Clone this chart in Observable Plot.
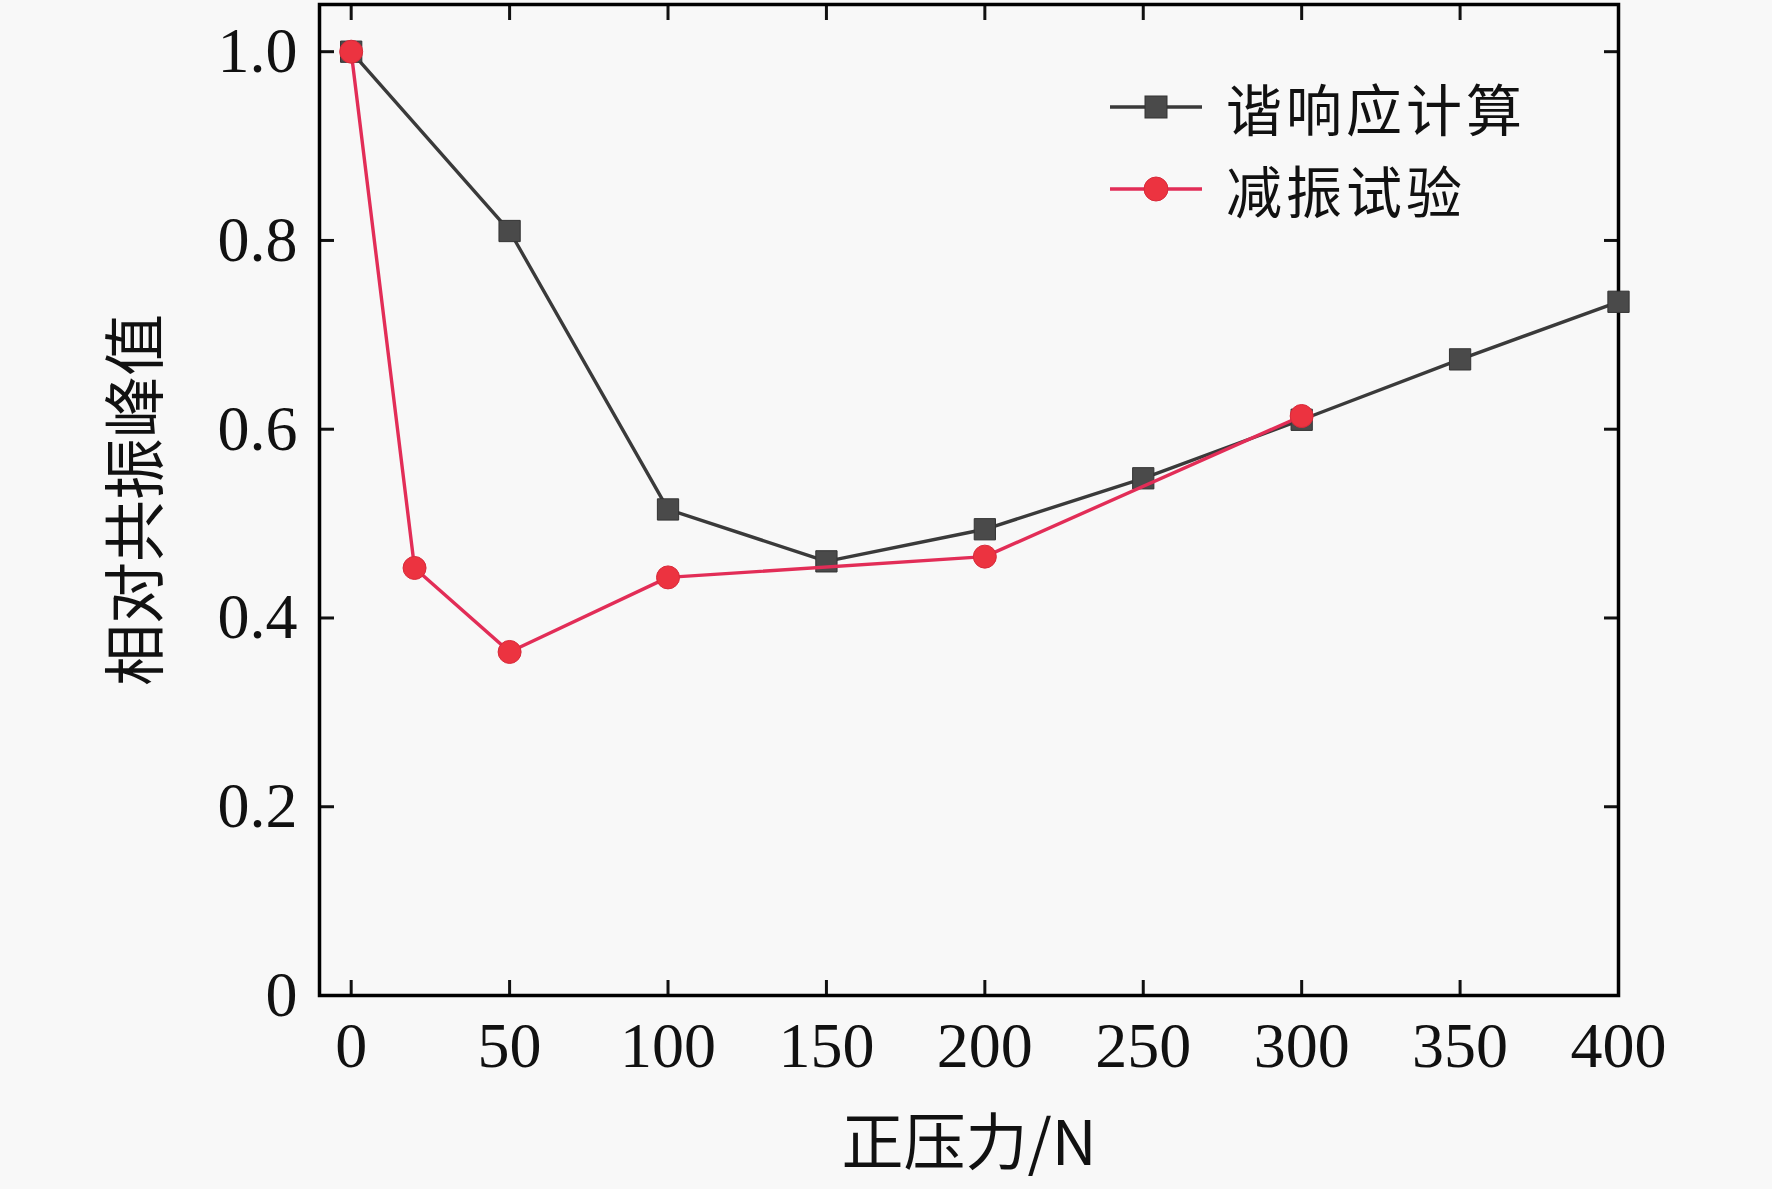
<!DOCTYPE html>
<html>
<head>
<meta charset="utf-8">
<script src="https://cdn.jsdelivr.net/npm/d3@7"></script>
<script src="https://cdn.jsdelivr.net/npm/@observablehq/plot@0.6"></script>
<style>
  html, body { margin: 0; padding: 0; background: #f8f8f8; }
  #wrap { position: relative; width: 1772px; height: 1189px; }
  #legend { position: absolute; left: 1108px; top: 66px; font-family: "Noto Sans CJK SC", sans-serif; font-size: 56px; color: #111; }
  .row { display: flex; align-items: center; height: 82px; }
  .row span { line-height: 1; display: inline-block; letter-spacing: 4px; }
  .row svg { margin-right: 22px; }
</style>
</head>
<body>
<div id="wrap"><div id="legend"></div></div>
<script>
const harmonicX = [0, 50, 100, 150, 200, 250, 300, 350, 400];
const harmonicY = [1.0, 0.810, 0.515, 0.460, 0.494, 0.548, 0.610, 0.674, 0.735];
const testX = [0, 20, 50, 100, 200, 300];
const testY = [1.0, 0.453, 0.364, 0.443, 0.465, 0.614];
const seriesNames = ["谐响应计算", "减振试验"];
const xTicks = [0, 50, 100, 150, 200, 250, 300, 350, 400];
const yTicks = [0, 0.2, 0.4, 0.6, 0.8, 1.0];
const yTickLabels = ["0", "0.2", "0.4", "0.6", "0.8", "1.0"];
const xLabel = "正压力/N";
const yLabel = "相对共振峰值";

const harmonic = harmonicX.map((x, i) => ({x, y: harmonicY[i]}));
const test = testX.map((x, i) => ({x, y: testY[i]}));

const darkLine = "#3a3a3a", darkFill = "#4a4a4a";
const redLine = "#e22d57", redFill = "#ec3340";
const numFont = "Liberation Serif";
const cjkFont = "Noto Sans CJK SC";

const chart = Plot.plot({
  width: 1772,
  height: 1189,
  marginLeft: 319,
  marginRight: 154,
  marginTop: 4,
  marginBottom: 194,
  style: {background: "transparent", fontFamily: numFont, fontSize: "62px", color: "#111"},
  x: {domain: [-10, 400]},
  y: {domain: [0, 1.05]},
  marks: [
    Plot.axisX({ticks: xTicks, tickSize: 0, tickPadding: 26, label: null, fontSize: 64, fontFamily: numFont}),
    Plot.axisX({ticks: xTicks, tickSize: -15, text: null, label: null, strokeWidth: 3}),
    Plot.axisX({anchor: "top", ticks: xTicks, tickSize: -15, text: null, label: null, strokeWidth: 3}),
    Plot.axisY({ticks: yTicks, tickFormat: d => yTickLabels[yTicks.indexOf(d)], tickSize: 0, tickPadding: 22, label: null, fontSize: 64, fontFamily: numFont}),
    Plot.axisY({ticks: yTicks, tickSize: -15, text: null, label: null, strokeWidth: 3}),
    Plot.axisY({anchor: "right", ticks: yTicks, tickSize: -15, text: null, label: null, strokeWidth: 3}),
    Plot.frame({stroke: "#000", strokeWidth: 3.5}),
    Plot.line(harmonic, {x: "x", y: "y", stroke: darkLine, strokeWidth: 3.4}),
    Plot.dot(harmonic, {x: "x", y: "y", symbol: "square", r: 12, fill: darkFill, stroke: "#333", strokeWidth: 1}),
    Plot.line(test, {x: "x", y: "y", stroke: redLine, strokeWidth: 3.4}),
    Plot.dot(test, {x: "x", y: "y", symbol: "circle", r: 11.5, fill: redFill, stroke: "#d82a3a", strokeWidth: 1}),
    Plot.text([xLabel], {frameAnchor: "bottom", dy: 150, text: d => d, fontSize: 62, fontFamily: cjkFont, fill: "#111", lineAnchor: "middle", textAnchor: "middle"}),
    Plot.text([yLabel], {frameAnchor: "left", dx: -181, rotate: -90, text: d => d, fontSize: 62, fontFamily: cjkFont, fill: "#111", lineAnchor: "middle", textAnchor: "middle"})
  ]
});
document.getElementById("wrap").insertBefore(chart, document.getElementById("legend"));

const legend = document.getElementById("legend");
const sw = [
  `<svg width="96" height="30"><line x1="2" y1="15" x2="94" y2="15" stroke="${darkLine}" stroke-width="3.4"/><rect x="37" y="4" width="22" height="22" fill="${darkFill}" stroke="#333"/></svg>`,
  `<svg width="96" height="30"><line x1="2" y1="15" x2="94" y2="15" stroke="${redLine}" stroke-width="3.4"/><circle cx="48" cy="15" r="12" fill="${redFill}" stroke="#d82a3a"/></svg>`
];
seriesNames.forEach((n, i) => {
  const row = document.createElement("div");
  row.className = "row";
  row.innerHTML = sw[i] + `<span>${n}</span>`;
  legend.appendChild(row);
});
</script>
</body>
</html>
